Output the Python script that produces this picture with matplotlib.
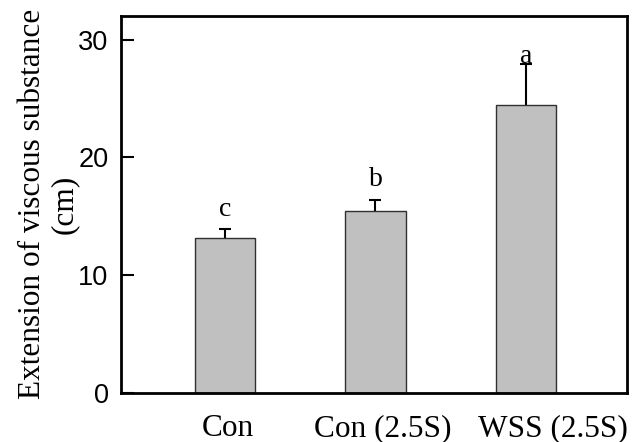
import matplotlib
matplotlib.use("Agg")
import matplotlib.pyplot as plt
import numpy as np

# data
groups = ["Con", "Con (2.5S)", "WSS (2.5S)"]
means = [13.1, 15.4, 24.4]
errors = [0.8, 1.0, 3.5]
letters = ["c", "b", "a"]
letter_y = [15.0, 17.6, 28.0]

serif = ["Times New Roman", "Liberation Serif", "DejaVu Serif"]
sans = ["Arial", "Liberation Sans", "DejaVu Sans"]

fig = plt.figure(figsize=(6.37, 4.42), dpi=100)
ax = fig.add_axes([0.19, 0.1115, 0.794, 0.8523])

x = np.arange(len(groups))
# error bars under the bars so only the upper half shows
ax.errorbar(x, means, yerr=errors, fmt="none",
            ecolor="black", elinewidth=1.5, capsize=4, capthick=1.5, zorder=1)
ax.bar(x, means, width=0.4, color="#c0c0c0", edgecolor="#303030", linewidth=1.0, zorder=2)

for xi, lab, ly in zip(x, letters, letter_y):
    ax.text(xi, ly, lab, ha="center", va="baseline", fontsize=20, family=serif)

ax.set_xlim(-0.69, 2.67)
ax.set_ylim(0, 32)
ax.set_yticks([0, 10, 20, 30])
# category labels sit a bit right of the bars in the original
ax.set_xticks(x + np.array([0.02, 0.05, 0.18]))
ax.set_xticklabels(groups, family=serif, fontsize=22.5)
for lab in ax.get_yticklabels():
    lab.set_family(sans)
    lab.set_fontsize(19.5)

ax.tick_params(axis="y", direction="in", length=9.5, width=1.5, pad=9)
ax.tick_params(axis="x", length=0, pad=15.5)
for s in ax.spines.values():
    s.set_linewidth(2.0)

ax.set_ylabel("Extension of viscous substance\n(cm)", family=serif, fontsize=22.5,
              linespacing=1.15)
ax.yaxis.set_label_coords(-0.083, 0.5)

fig.savefig("out.png", dpi=100)
